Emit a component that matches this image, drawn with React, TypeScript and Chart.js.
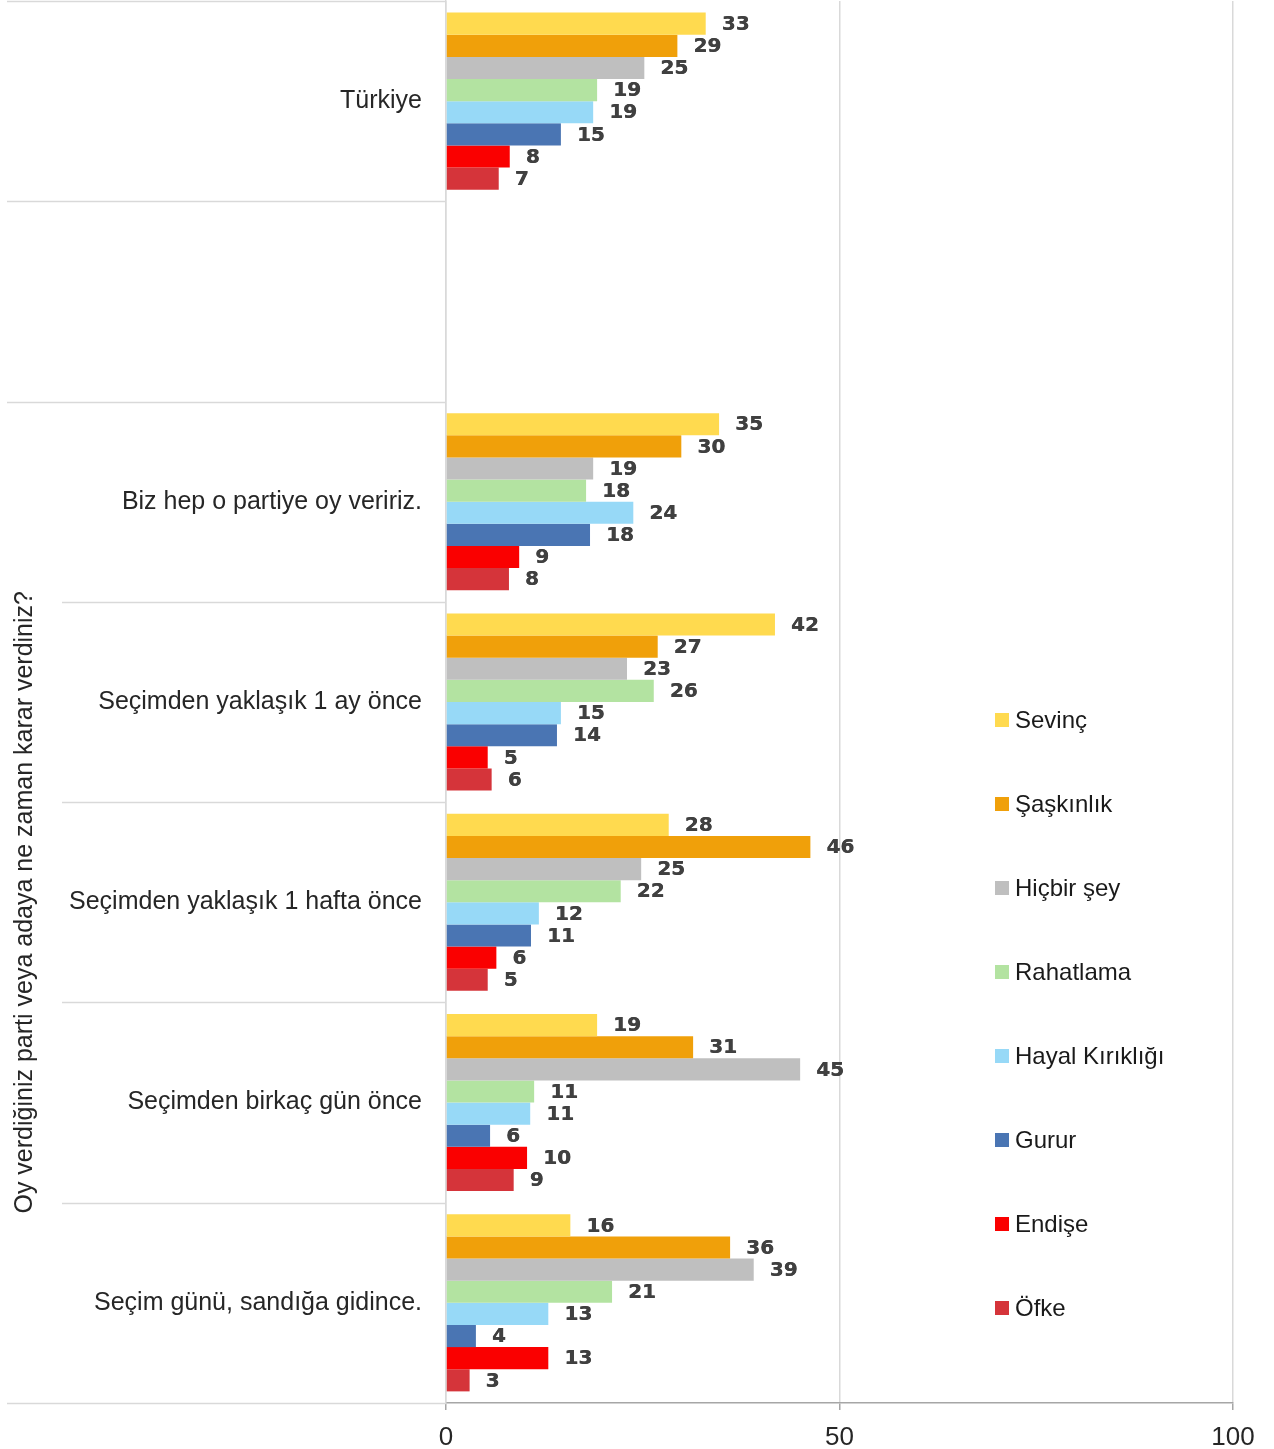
import React, { useEffect, useRef } from 'react';
import { Chart, registerables } from 'chart.js';

Chart.register(...registerables);

const categories = [
  'Türkiye',
  '',
  'Biz hep o partiye oy veririz.',
  'Seçimden yaklaşık 1 ay önce',
  'Seçimden yaklaşık 1 hafta önce',
  'Seçimden birkaç gün önce',
  'Seçim günü, sandığa gidince.',
];

const seriesNames = ['Sevinç', 'Şaşkınlık', 'Hiçbir şey', 'Rahatlama', 'Hayal Kırıklığı', 'Gurur', 'Endişe', 'Öfke'];
const seriesColors = ['#FFDA4F', '#F0A00A', '#BFBFBF', '#B3E3A1', '#97D9F7', '#4A75B3', '#FA0000', '#D5343A'];

const sevinc = [33.0, null, 34.7, 41.8, 28.3, 19.2, 15.8];
const saskinlik = [29.4, null, 29.9, 26.9, 46.3, 31.4, 36.1];
const hicbirsey = [25.2, null, 18.7, 23.0, 24.8, 45.0, 39.1];
const rahatlama = [19.2, null, 17.8, 26.4, 22.2, 11.2, 21.1];
const hayalKirikligi = [18.7, null, 23.8, 14.6, 11.8, 10.7, 13.0];
const gurur = [14.6, null, 18.3, 14.1, 10.8, 5.6, 3.8];
const endise = [8.1, null, 9.3, 5.3, 6.4, 10.3, 13.0];
const ofke = [6.7, null, 8.0, 5.8, 5.3, 8.6, 3.0];

const seriesValues = [sevinc, saskinlik, hicbirsey, rahatlama, hayalKirikligi, gurur, endise, ofke];

const xTicks = [0, 50, 100];
const axisTitle = 'Oy verdiğiniz parti veya adaya ne zaman karar verdiniz?';

const FONT = "'Liberation Sans', Arial, sans-serif";
const LABEL_FONT = "bold 20px 'DejaVu Sans', sans-serif";

const dataLabelPlugin = {
  id: 'dataLabels',
  afterDatasetsDraw(chart: any) {
    const ctx = chart.ctx;
    ctx.save();
    ctx.font = LABEL_FONT;
    ctx.fillStyle = '#404040';
    ctx.textAlign = 'left';
    ctx.textBaseline = 'middle';
    chart.data.datasets.forEach((ds: any, di: number) => {
      const meta = chart.getDatasetMeta(di);
      meta.data.forEach((el: any, i: number) => {
        const v = ds.data[i];
        if (v === null || v === undefined) return;
        const t = String(Math.round(v));
        ctx.fillText(t, el.x + 16, el.y + 1);
        ctx.fillText(t, el.x + 16.4, el.y + 1);
      });
    });
    ctx.restore();
  },
};

const separatorPlugin = {
  id: 'separators',
  afterDraw(chart: any) {
    const y = chart.scales.y;
    const ctx = chart.ctx;
    const axisX = chart.chartArea.left;
    ctx.save();
    ctx.strokeStyle = '#D9D9D9';
    ctx.lineWidth = 1.5;
    const n = categories.length;
    for (let i = 0; i <= n; i++) {
      const py = Math.round(y.getPixelForValue(i - 0.5)) + 0.5;
      const outer = i <= 2 || i === n;
      const x0 = outer ? 7 : 62;
      ctx.beginPath();
      ctx.moveTo(x0, py);
      ctx.lineTo(axisX, py);
      ctx.stroke();
    }
    // rotated axis title centered over the lower group
    const top = y.getPixelForValue(1.5);
    const bottom = y.getPixelForValue(n - 0.5);
    ctx.translate(25, (top + bottom) / 2);
    ctx.rotate(-Math.PI / 2);
    ctx.font = `25px ${FONT}`;
    ctx.fillStyle = '#262626';
    ctx.textAlign = 'center';
    ctx.textBaseline = 'middle';
    ctx.fillText(axisTitle, 0, 0);
    ctx.restore();
  },
};

const legendPlugin = {
  id: 'floatLegend',
  afterDraw(chart: any) {
    const ctx = chart.ctx;
    const ca = chart.chartArea;
    const x = ca.left + 549;
    const y0 = ca.top + 719;
    const step = 84;
    ctx.save();
    ctx.font = `24px ${FONT}`;
    ctx.textAlign = 'left';
    ctx.textBaseline = 'middle';
    chart.data.datasets.forEach((ds: any, i: number) => {
      const cy = y0 + i * step;
      ctx.fillStyle = ds.backgroundColor;
      ctx.fillRect(x, cy - 7, 14, 14);
      ctx.fillStyle = '#1A1A1A';
      ctx.fillText(ds.label, x + 20, cy + 1);
    });
    ctx.restore();
  },
};

export default function App() {
  const canvasRef = useRef<HTMLCanvasElement | null>(null);

  useEffect(() => {
    document.body.style.margin = '0';
    const canvas = canvasRef.current;
    if (!canvas) return;
    const chart = new Chart(canvas, {
      type: 'bar',
      data: {
        labels: categories,
        datasets: seriesNames.map((name, i) => ({
          label: name,
          data: seriesValues[i],
          backgroundColor: seriesColors[i],
          borderWidth: 0,
          categoryPercentage: 0.884,
          barPercentage: 1,
        })),
      },
      options: {
        indexAxis: 'y',
        animation: false,
        responsive: false,
        devicePixelRatio: 1,
        layout: { padding: { top: 1, right: 41, left: 0, bottom: 0 } },
        plugins: {
          legend: { display: false },
          tooltip: { enabled: false },
        },
        scales: {
          x: {
            min: 0,
            max: 100,
            afterBuildTicks: (scale: any) => {
              scale.ticks = xTicks.map((v) => ({ value: v }));
            },
            afterFit: (scale: any) => {
              scale.height = 46;
            },
            grid: {
              color: '#D9D9D9',
              lineWidth: 1.5,
              tickColor: '#A6A6A6',
              tickLength: 7,
              drawTicks: true,
            },
            border: { display: true, color: '#A6A6A6', width: 1.5 },
            ticks: {
              padding: 12,
              color: '#262626',
              font: { family: FONT, size: 26 },
            },
          },
          y: {
            type: 'category',
            afterFit: (scale: any) => {
              scale.width = 446;
              scale.paddingTop = 0;
              scale.paddingBottom = 0;
            },
            grid: { display: false, drawTicks: false },
            border: { display: true, color: '#D9D9D9', width: 1.5 },
            ticks: {
              autoSkip: false,
              padding: 24,
              color: '#262626',
              font: { family: FONT, size: 25 },
            },
          },
        },
      },
      plugins: [dataLabelPlugin, separatorPlugin, legendPlugin],
    } as any);
    return () => chart.destroy();
  }, []);

  return (
    <div style={{ width: 1274, height: 1449 }}>
      <canvas ref={canvasRef} width={1274} height={1449} style={{ display: 'block', width: 1274, height: 1449 }} />
    </div>
  );
}
